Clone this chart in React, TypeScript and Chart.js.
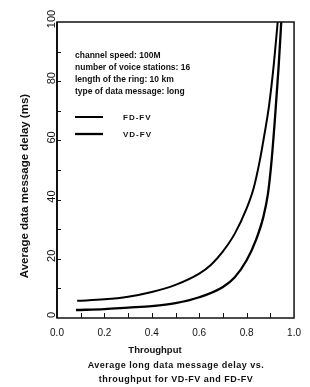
import React, { useEffect, useRef } from "react";
import { Chart, registerables } from "chart.js";

Chart.register(...registerables);

// ---- data ----
const fdThroughput = [0.085, 0.2, 0.3, 0.4, 0.5, 0.6, 0.65, 0.7, 0.75, 0.8, 0.83, 0.855, 0.875, 0.895, 0.915, 0.931];
const fdDelay = [5.8, 6.3, 7.2, 8.8, 11.2, 15.0, 18.0, 22.5, 28.5, 37.0, 44.0, 53.0, 62.0, 72.0, 86.0, 100];
const vdThroughput = [0.08, 0.2, 0.3, 0.4, 0.5, 0.6, 0.7, 0.75, 0.8, 0.84, 0.87, 0.89, 0.905, 0.92, 0.935, 0.946];
const vdDelay = [2.7, 3.0, 3.5, 4.0, 5.0, 7.0, 10.5, 13.8, 19.5, 26.5, 34.0, 42.0, 53.0, 68.0, 85.0, 100];

const seriesLabels = ["FD-FV", "VD-FV"];
const xTickValues = [0, 0.2, 0.4, 0.6, 0.8, 1.0];
const yTickValues = [0, 20, 40, 60, 80, 100];
const xMinorTicks = [0.1, 0.2, 0.3, 0.4, 0.5, 0.6, 0.7, 0.8, 0.9];
const yMinorTicks = [10, 20, 30, 40, 50, 60, 70, 80, 90];
const infoLines = [
  "channel speed: 100M",
  "number of voice stations: 16",
  "length of the ring: 10 km",
  "type of data message: long",
];
const xTitle = "Throughput";
const yTitle = "Average data message delay (ms)";
const captionLines = ["Average long data message delay vs.", "throughput for VD-FV and FD-FV"];

const FAMILY = "'Liberation Sans', Arial, Helvetica, sans-serif";
const INK = "#111";

const decorPlugin = {
  id: "decor",
  afterDraw(chart: any) {
    const { ctx, chartArea: a, scales } = chart;
    const xs = scales.x;
    const ys = scales.y;
    ctx.save();
    ctx.strokeStyle = INK;
    ctx.fillStyle = INK;
    // frame
    ctx.lineWidth = 1.5;
    ctx.strokeRect(a.left, a.top, a.right - a.left, a.bottom - a.top);
    ctx.lineWidth = 2;
    ctx.beginPath();
    ctx.moveTo(a.left, a.top);
    ctx.lineTo(a.left, a.bottom);
    ctx.stroke();
    // inner ticks
    ctx.lineWidth = 1;
    ctx.beginPath();
    xMinorTicks.forEach((v) => {
      const px = Math.round(xs.getPixelForValue(v)) + 0.5;
      ctx.moveTo(px, a.bottom);
      ctx.lineTo(px, a.bottom - 5);
    });
    yMinorTicks.forEach((v) => {
      const py = Math.round(ys.getPixelForValue(v)) + 0.5;
      ctx.moveTo(a.left, py);
      ctx.lineTo(a.left + 4, py);
    });
    ctx.stroke();

    // info text
    ctx.font = `bold 8.5px ${FAMILY}`;
    ctx.textAlign = "left";
    ctx.textBaseline = "middle";
    infoLines.forEach((t, i) => {
      ctx.fillText(t, a.left + 18, a.top + 34 + i * 12);
    });

    // legend
    chart.data.datasets.forEach((ds: any, i: number) => {
      const yy = a.top + 95 + i * 17;
      ctx.lineWidth = ds.borderWidth;
      ctx.strokeStyle = ds.borderColor;
      ctx.beginPath();
      ctx.moveTo(a.left + 18, yy);
      ctx.lineTo(a.left + 46, yy);
      ctx.stroke();
      ctx.font = `bold 8px ${FAMILY}`;
      (ctx as any).letterSpacing = "1px";
      ctx.fillText(ds.label, a.left + 66, yy + 0.5);
      (ctx as any).letterSpacing = "0px";
    });

    // y title
    ctx.save();
    ctx.translate(25, 186);
    ctx.rotate(-Math.PI / 2);
    ctx.font = `bold 11.5px ${FAMILY}`;
    ctx.textAlign = "center";
    ctx.textBaseline = "middle";
    ctx.fillText(yTitle, 0, 0);
    ctx.restore();

    // x title
    ctx.font = `bold 9.5px ${FAMILY}`;
    ctx.textAlign = "center";
    ctx.textBaseline = "middle";
    ctx.fillText(xTitle, 155, 350);

    // caption
    ctx.font = `bold 9px ${FAMILY}`;
    (ctx as any).letterSpacing = "0.5px";
    ctx.fillText(captionLines[0], 176, 366);
    ctx.fillText(captionLines[1], 176, 380);
    (ctx as any).letterSpacing = "0px";
    ctx.restore();
  },
};

export default function App() {
  const canvasRef = useRef<HTMLCanvasElement | null>(null);

  useEffect(() => {
    const canvas = canvasRef.current;
    if (!canvas) return;
    const chart = new Chart(canvas, {
      type: "scatter",
      data: {
        datasets: [
          {
            label: seriesLabels[0],
            data: fdThroughput.map((x, i) => ({ x, y: fdDelay[i] })),
            showLine: true,
            borderColor: "#000",
            backgroundColor: "#000",
            borderWidth: 2,
            pointRadius: 0,
            cubicInterpolationMode: "monotone",
          },
          {
            label: seriesLabels[1],
            data: vdThroughput.map((x, i) => ({ x, y: vdDelay[i] })),
            showLine: true,
            borderColor: "#000",
            backgroundColor: "#000",
            borderWidth: 2.3,
            pointRadius: 0,
            cubicInterpolationMode: "monotone",
          },
        ],
      },
      options: {
        animation: false,
        responsive: false,
        devicePixelRatio: 1,
        layout: { padding: { top: 22, right: 9, left: 0, bottom: 0 } },
        plugins: {
          legend: { display: false },
          tooltip: { enabled: false },
          title: { display: false },
        },
        scales: {
          x: {
            type: "linear",
            min: 0,
            max: 1,
            afterFit: (s: any) => {
              s.height = 69;
            },
            afterBuildTicks: (s: any) => {
              s.ticks = xTickValues.map((v) => ({ value: v }));
            },
            grid: { display: false, drawTicks: false },
            border: { display: false },
            ticks: {
              autoSkip: false,
              maxRotation: 0,
              minRotation: 0,
              padding: 9,
              color: INK,
              font: { size: 10, family: FAMILY },
              callback: (v: any) => Number(v).toFixed(1),
            },
          },
          y: {
            type: "linear",
            min: 0,
            max: 100,
            afterFit: (s: any) => {
              s.width = 57;
            },
            afterBuildTicks: (s: any) => {
              s.ticks = yTickValues.map((v) => ({ value: v }));
            },
            grid: { display: false, drawTicks: false },
            border: { display: false },
            ticks: {
              autoSkip: false,
              minRotation: 90,
              maxRotation: 90,
              crossAlign: "center",
              padding: -4,
              labelOffset: -3,
              color: INK,
              font: { size: 11, family: FAMILY },
              callback: (v: any) => String(v),
            },
          },
        },
      },
      plugins: [decorPlugin],
    } as any);
    return () => chart.destroy();
  }, []);

  return (
    <div style={{ position: "absolute", left: 0, top: 0, width: 310, height: 387, background: "#fff" }}>
      <canvas ref={canvasRef} width={310} height={387} style={{ display: "block", width: 310, height: 387 }} />
    </div>
  );
}
